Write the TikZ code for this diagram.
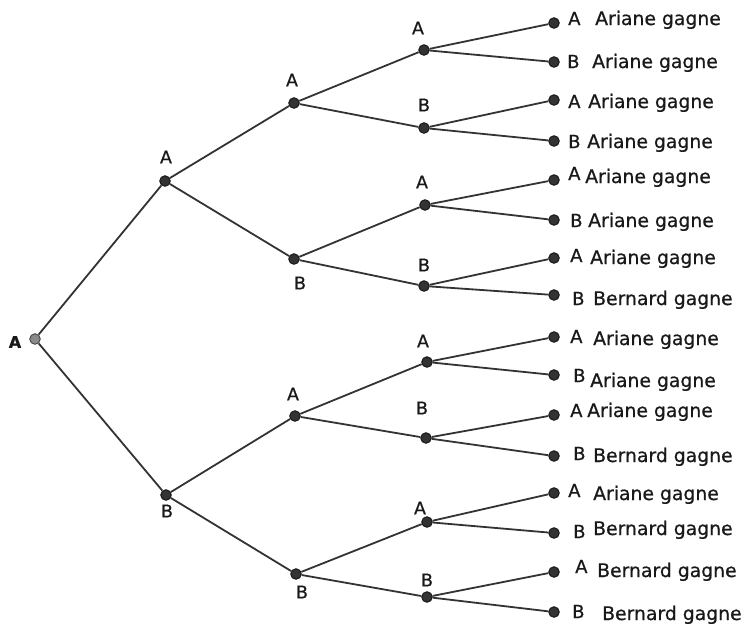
\documentclass[tikz,border=0pt]{standalone}
\usepackage{fontspec}
\setmainfont{DejaVu Sans}[FakeBold=0.6]
\definecolor{linec}{HTML}{333333}
\definecolor{dotc}{HTML}{333333}
\definecolor{rootc}{HTML}{8A8A8A}
\begin{document}
\begin{tikzpicture}[x=1pt,y=-1pt,
  dot/.style={circle,draw=black!90,line width=1pt,fill=dotc,inner sep=0pt,minimum size=10.5pt},
  rootdot/.style={dot,fill=rootc,draw=black!70},
  edge/.style={draw=linec,line width=1.8pt},
  treelab/.style={inner sep=0pt,text=black!90,font=\fontsize{17.5}{20}\selectfont},
  rootlab/.style={treelab,font=\bfseries\fontsize{16}{20}\selectfont},
  leafletter/.style={inner sep=0pt,anchor=base west,text=black!90,font=\fontsize{18}{21}\selectfont},
  leaftext/.style={inner sep=0pt,anchor=base west,text=black!90,font=\fontsize{18.8}{22}\selectfont}]
\useasboundingbox[fill=white] (0,0) rectangle (743,625);
% tree nodes
\node[rootdot] (r) at (35,339) {};
\node[dot] (a) at (165,181) {};
\node[dot] (b) at (166,495) {};
\node[dot] (aa) at (294,103) {};
\node[dot] (ab) at (294,259) {};
\node[dot] (ba) at (295,416) {};
\node[dot] (bb) at (296,574) {};
\node[dot] (aaa) at (424,50) {};
\node[dot] (aab) at (424,128) {};
\node[dot] (aba) at (425,205) {};
\node[dot] (abb) at (424,286) {};
\node[dot] (baa) at (427,362) {};
\node[dot] (bab) at (426,438) {};
\node[dot] (bba) at (427,522) {};
\node[dot] (bbb) at (427,597) {};
% edges
\draw[edge] (r) -- (a);
\draw[edge] (r) -- (b);
\draw[edge] (a) -- (aa);
\draw[edge] (a) -- (ab);
\draw[edge] (b) -- (ba);
\draw[edge] (b) -- (bb);
\draw[edge] (aa) -- (aaa);
\draw[edge] (aa) -- (aab);
\draw[edge] (ab) -- (aba);
\draw[edge] (ab) -- (abb);
\draw[edge] (ba) -- (baa);
\draw[edge] (ba) -- (bab);
\draw[edge] (bb) -- (bba);
\draw[edge] (bb) -- (bbb);
% labels
\node[rootlab] (rl) at (15,342) {A};
\node[treelab] (al) at (166,157) {A};
\node[treelab] (bl) at (167,511) {B};
\node[treelab] (aal) at (292,80) {A};
\node[treelab] (abl) at (300,283) {B};
\node[treelab] (bal) at (293,394) {A};
\node[treelab] (bbl) at (302,592) {B};
\node[treelab] (aaal) at (418,28) {A};
\node[treelab] (aabl) at (424,105) {B};
\node[treelab] (abal) at (422,182) {A};
\node[treelab] (abbl) at (424,265) {B};
\node[treelab] (baal) at (423,341) {A};
\node[treelab] (babl) at (422,408) {B};
\node[treelab] (bbal) at (420,508) {A};
\node[treelab] (bbbl) at (427,580) {B};
% leaves
\foreach \i/\p/\y/\L/\lx/\lb/\T/\tx/\tb in {
  1/aaa/23/A/568/25/Ariane/595/25,
  2/aaa/62/B/567/68/Ariane/592/68,
  3/aab/100/A/568/108/Ariane/588/108,
  4/aab/141/B/568/148/Ariane/587/148,
  5/aba/180/A/568/180/Ariane/585/183,
  6/aba/220/B/570/227/Ariane/588/227,
  7/abb/258/A/570/262/Ariane/590/264,
  8/abb/295/B/572/305/Bernard/593/305,
  9/baa/337/A/570/343/Ariane/593/345,
  10/baa/375/B/573/382/Ariane/590/387,
  11/bab/415/A/570/417/Ariane/587/417,
  12/bab/456/B/573/460/Bernard/593/462,
  13/bba/493/A/568/497/Ariane/593/500,
  14/bba/533/B/573/538/Bernard/593/535,
  15/bbb/572/A/575/573/Bernard/597/577,
  16/bbb/612/B/572/618/Bernard/602/620} {
  \node[dot] (l\i) at (554,\y) {};
  \draw[edge] (\p) -- (l\i);
  \node[leafletter] (ll\i) at (\lx,\lb) {\L};
  \node[leaftext] (lt\i) at (\tx,\tb) {\T\ gagne};
}
\end{tikzpicture}
\end{document}
